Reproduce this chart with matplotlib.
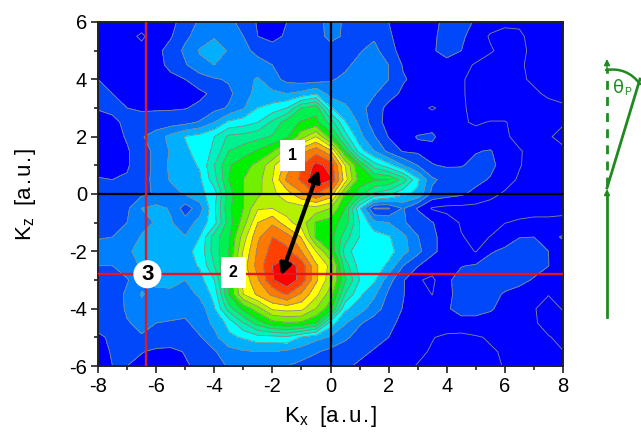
import numpy as np
import matplotlib
matplotlib.use("Agg")
import matplotlib.pyplot as plt
from matplotlib.patches import FancyArrowPatch
from matplotlib.lines import Line2D

plt.rcParams['font.family'] = ['Liberation Sans', 'DejaVu Sans']
plt.rcParams['axes.unicode_minus'] = False

kx = [-8,-7.5,-7,-6.5,-6,-5.5,-5,-4.5,-4,-3.5,-3,-2.5,-2,-1.5,-1,-.5,0,.5,1,1.5,2,2.5,3,3.5,4,4.5,5,5.5,6,6.5,7,7.5,8]
kz = [6,5.5,5,4.5,4,3.5,3,2.5,2,1.5,1,.5,0,-.5,-1,-1.5,-2,-2.5,-3,-3.5,-4,-4.5,-5,-5.5,-6]

z_p60 = [.5,.5,.4,.3,.5,.8,1.3,2.2,2.5,2.3,1.6,.9,.8,1.0,1.4,1.7,2.3,1.9,1.5,1.3,1.0,.6,.5,.8,1.2,1.3,.9,.4,.2,.1,.1,.2,.2]
z_p55 = [.4,.4,.2,-.1,.3,.9,1.8,2.4,2.9,2.6,2.0,1.0,.8,1.1,1.5,1.7,2.2,1.9,1.8,1.8,1.1,.7,.5,.9,1.2,1.2,.5,-.1,-.3,-.1,.2,.3,.3]
z_p50 = [.4,.3,.3,.2,.7,1.4,2.2,3.1,3.5,2.9,2.3,1.7,1.3,1.4,1.5,1.6,1.7,1.6,1.9,2.4,1.2,.8,.5,.9,1.3,1.0,.5,.1,-.3,-.2,.2,.3,.3]
z_p45 = [.4,.4,.4,.4,.6,1.3,1.9,2.7,3.0,2.8,2.6,2.4,2.0,1.7,1.6,1.6,1.6,1.8,2.3,2.8,2.0,.9,.6,.7,.7,.3,-.1,-.4,-.4,-.1,.2,.3,.3]
z_p40 = [1.0,.8,.6,.5,.5,.7,1.0,1.5,1.9,2.1,2.7,3.1,2.4,1.7,1.5,1.5,1.9,2.2,2.5,2.6,2.0,1.1,.7,.7,.5,.1,-.3,-.5,-.5,-.1,.1,.3,.3]
z_p35 = [1.1,1.0,.8,.6,.5,.5,.6,.8,1.2,1.8,2.5,3.4,3.2,3.0,3.3,3.9,2.6,2.5,2.4,2.1,1.4,.8,.7,.8,.6,.1,-.3,-.6,-.6,-.4,-.1,.1,.2]
z_p30 = [1.05,1.1,1.0,.9,.9,.9,.95,1.2,1.7,2.1,2.9,4.0,4.4,5.0,7.0,7.6,4.1,3.2,2.4,1.5,.7,.5,.3,-.1,.3,.1,-.2,-.5,-.5,-.4,-.3,-.2,-.1]
z_p25 = [.7,.9,1.1,1.3,1.4,1.5,1.7,2.1,3.0,4.2,4.5,5.0,6.2,7.5,8.1,8.3,6.6,4.1,2.8,1.5,.6,.5,.5,.6,.4,.1,-.1,.05,.05,-.3,-.3,-.2,-.1]
z_p20 = [.5,.6,1.1,1.9,2.5,3.3,4.05,4.4,5.0,6.2,6.4,6.7,7.1,7.8,9.6,11.0,8.6,5.5,3.3,2.1,.95,.7,1.05,1.15,.5,.4,.3,.4,.1,-.2,-.2,-.1,.3]
z_p15 = [.5,.5,.9,1.5,2.3,3.1,3.8,4.4,5.2,7.0,7.5,8.1,8.9,10.5,12.6,13.6,12.2,8,4.5,3,1.7,.9,.8,.7,.6,.7,.95,1.05,.6,.05,-.2,-.3,-.2]
z_p10 = [.5,.5,.9,1.5,2.3,3.2,3.6,4.1,6.0,7.9,8.6,9.3,10.7,12.5,14.0,15.3,14.7,11.0,8,5.5,4.4,3,2,1.05,.9,.95,1.2,1.3,.5,.05,-.3,-.3,-.3]
z_p05 = [1.1,1.0,1.1,1.6,2.3,3.1,3.5,3.8,5.6,8,9.0,9.6,11,13.2,14.2,15.8,15.1,11.5,8.5,8.1,8.0,6.6,4.2,2.2,1.6,1.4,1.3,.9,.3,-.1,-.3,-.3,-.3]
z_000 = [1.4,1.5,1.6,1.8,2.1,2.6,3.1,3.7,4.5,7.5,9,9.7,10.8,11.5,12.8,14.0,12.7,9,7.5,5.8,5.2,4.2,3.8,1.7,1.4,1.15,.7,.2,-.1,-.3,-.3,-.3,-.3]
z_m05 = [1.1,1.3,1.8,3.0,3.3,2.9,1.5,2.5,4.8,7.8,9,10.9,11.0,10.6,10.5,10.6,10,8,4.2,.9,.9,2.1,.9,-.1,-.3,-.3,-.3,-.3,-.3,-.3,-.3,-.3,-.2]
z_m10 = [1.3,1.7,2.0,2.6,3.1,3.1,2.4,3.4,4.6,7.5,9.5,12,12.8,11.3,10.5,8.9,8.5,7.5,5,3.3,3.0,2.1,1.6,1.05,.5,-.1,-.3,-.3,-.02,.1,.2,.2,.2]
z_m15 = [1.9,2.0,2.3,3.1,3.5,3.7,3.05,4.0,6.5,7.8,10.5,12.8,14.0,13.5,11.9,8.8,8.4,6.5,5,4.5,4.1,3.3,2.05,1.2,.6,.05,-.2,.02,.5,.95,1.0,.7,1.1]
z_m20 = [2.5,2.7,2.9,3.2,3.6,3.6,3.7,4.3,6.5,8,11.1,13.2,14.4,14.3,13.0,11.0,9.0,5.5,4.3,4.6,4.4,3.4,2.3,1.2,.6,.4,-.05,.9,1.2,1.8,1.3,1.0,.5]
z_m25 = [2.0,2.0,2.6,3.1,3.5,3.6,3.6,4.1,6,8.5,11.5,13.4,15.0,15.7,14.6,12.2,10.7,6.5,4.6,4.5,3.8,2.0,1.05,.5,.7,.95,1.1,1.4,1.6,1.9,1.4,1.02,.4]
z_m30 = [1.4,1.6,1.9,2.8,3.2,3.4,3.0,3.6,5,8.2,11.3,12.9,14.9,15.8,14.6,12.2,10.4,7.2,5,4.2,2.4,1.1,.1,-.2,.8,1.4,1.6,1.6,1.4,1.3,.9,.5,.3]
z_m35 = [1.2,1.4,2.2,3.05,2.8,2.7,2.5,3.2,4.3,8,11.0,12.2,13.2,14.1,12.8,11.3,9.5,6,4.2,3.2,1.8,1.05,.4,-.02,.8,1.3,1.5,1.3,.9,.6,.4,.03,.1]
z_m40 = [1.1,1.2,2.2,2.8,2.6,2.5,2.4,2.4,3.9,6.5,8.3,9.6,11.2,11.4,11.3,10,8.4,4.2,3.5,2.4,1.6,.95,.6,.5,.9,1.3,1.3,1.1,.7,.3,.05,-.3,.05]
z_m45 = [1.2,1.3,1.9,2.3,2.0,1.9,1.8,2.5,3.2,4.3,6,7.5,8.6,8.9,8.8,8.0,4.5,3.1,2.1,1.6,1.2,.8,.3,.4,.6,.7,.7,.6,.3,.2,.1,-.3,-.3]
z_m50 = [.9,1.1,1.3,1.9,1.7,1.5,1.5,1.9,2.7,3.8,4.1,4.6,4.6,4.8,3.9,3.3,2.9,2.2,1.6,1.2,1.0,.6,.3,.05,-.2,-.3,-.1,.1,.1,.1,.2,.05,-.2]
z_m55 = [.6,1.1,1.2,1.05,.8,.8,1.05,1.4,1.9,2.6,2.9,3.0,3.0,2.8,2.5,2.1,1.7,1.4,1.15,.95,.7,.4,.2,-.1,-.3,-.4,-.3,-.1,.1,.2,.3,.2,.02]
z_m60 = [.5,1.0,1.0,.7,.6,.7,.9,1.2,1.6,2.1,2.4,2.5,2.3,2.0,1.7,1.4,1.3,1.1,.9,.6,.4,.2,-.05,-.3,-.4,-.4,-.4,-.2,.05,.2,.3,.3,.2]

intensity = np.array([z_p60,z_p55,z_p50,z_p45,z_p40,z_p35,z_p30,z_p25,z_p20,z_p15,z_p10,z_p05,z_000,
                      z_m05,z_m10,z_m15,z_m20,z_m25,z_m30,z_m35,z_m40,z_m45,z_m50,z_m55,z_m60])

levels = [-5,0,1,2,3,4,5,6,7,8,9,10,11,12,13,14,15,20]
band_colors = ['#0000ff','#0000ff','#0048fa','#0080ff','#00b0ff','#00ffff','#00f0c0','#00f090','#00f050',
               '#00f000','#70f000','#b4f000','#ffff00','#ffb000','#ff7800','#ff4000','#ff0000']

W, H = 641, 436
fig = plt.figure(figsize=(W/100, H/100), dpi=100, facecolor='white')
ax = fig.add_axes([98/W, 1-366/H, 465/W, 344/H])

ax.contourf(kx, kz, intensity, levels=levels, colors=band_colors)
ax.contour(kx, kz, intensity, levels=levels[1:-1], colors='#8a8a8a', linewidths=0.6)

ax.set_xlim(-8, 8)
ax.set_ylim(-6, 6)
ax.set_xticks(range(-8, 9, 2))
ax.set_xticks(range(-7, 8, 2), minor=True)
ax.set_yticks(range(-6, 7, 2))
ax.set_yticks(range(-5, 6, 2), minor=True)
ax.tick_params(which='major', direction='out', length=5, width=1.2, labelsize=14.5, pad=3, color='#222222')
ax.tick_params(which='minor', direction='out', length=3, width=1.2, color='#222222')
for s in ax.spines.values():
    s.set_linewidth(1.4)
    s.set_color('#222222')

top = ax.secondary_xaxis('top')
top.set_xticks(range(-8, 9, 2))
top.set_xticks(range(-7, 8, 2), minor=True)
top.tick_params(which='major', direction='in', length=6, width=1.2, labelsize=0, labeltop=False, color='#222222')
top.tick_params(which='minor', direction='in', length=3.5, width=1.2, color='#222222')
top.spines['top'].set_visible(False)
right = ax.secondary_yaxis('right')
right.set_yticks(range(-6, 7, 2))
right.set_yticks(range(-5, 6, 2), minor=True)
right.tick_params(which='major', direction='in', length=6, width=1.2, labelright=False, color='#222222')
right.tick_params(which='minor', direction='in', length=3.5, width=1.2, color='#222222')
right.spines['right'].set_visible(False)

spaced_units = '  [a\u200a.\u200au\u200a.\u200a]'
ax.set_xlabel('K$_{\\mathregular{x}}$' + spaced_units, fontsize=16, labelpad=6)
ax.set_ylabel('K$_{\\mathregular{z}}$' + spaced_units, fontsize=16, labelpad=22)

ax.axhline(0, color='black', lw=1.6, zorder=5)
ax.axvline(0, color='black', lw=1.6, zorder=5)
ax.axhline(-2.8, color='#e8141c', lw=1.7, zorder=5)
ax.axvline(-6.35, color='#d81c28', lw=1.7, zorder=5)

ax.add_patch(FancyArrowPatch((-0.4, 0.85), (-1.7, -2.85), arrowstyle='<|-|>', mutation_scale=16,
                             lw=3, color='black', shrinkA=0, shrinkB=0, zorder=7))

box = dict(boxstyle='square,pad=0.5', fc='white', ec='none')
ax.text(-1.3, 1.35, '1', ha='center', va='center', fontsize=11.5, fontweight='bold', bbox=box, zorder=8)
ax.text(-3.35, -2.75, '2', ha='center', va='center', fontsize=11.5, fontweight='bold', bbox=box, zorder=8)
ax.text(-6.3, -2.8, '3', ha='center', va='center', fontsize=16, fontweight='bold', zorder=8,
        bbox=dict(boxstyle='circle,pad=0.16', fc='white', ec='none'))

# scattering-angle sketch at the right, in figure pixel space
ov = fig.add_axes([0, 0, 1, 1], facecolor='none')
ov.set_xlim(0, W)
ov.set_ylim(H, 0)
ov.axis('off')
green = '#1f8a1f'
ov.add_line(Line2D([607, 607], [317, 196], color=green, lw=2))
ov.add_line(Line2D([607, 607], [186, 68], color=green, lw=2, ls=(0, (3.2, 2.6))))
ov.add_line(Line2D([607, 640], [188, 79], color=green, lw=2))
ov.add_patch(FancyArrowPatch((607, 200), (607, 189), arrowstyle='-|>', mutation_scale=9, color=green, lw=1, shrinkA=0, shrinkB=0))
ov.add_patch(FancyArrowPatch((607, 70), (607, 59), arrowstyle='-|>', mutation_scale=9, color=green, lw=1, shrinkA=0, shrinkB=0))
ov.add_patch(FancyArrowPatch((606, 70), (640, 84), connectionstyle='arc3,rad=-0.3', arrowstyle='-', color=green, lw=1.8, shrinkA=0, shrinkB=0))
ov.text(613, 88, '\u03b8', color=green, fontsize=13, ha='left', va='center', family='DejaVu Sans')
ov.text(624, 92, 'P', color=green, fontsize=7.5, ha='left', va='center')

fig.savefig('out.png', dpi=100)
